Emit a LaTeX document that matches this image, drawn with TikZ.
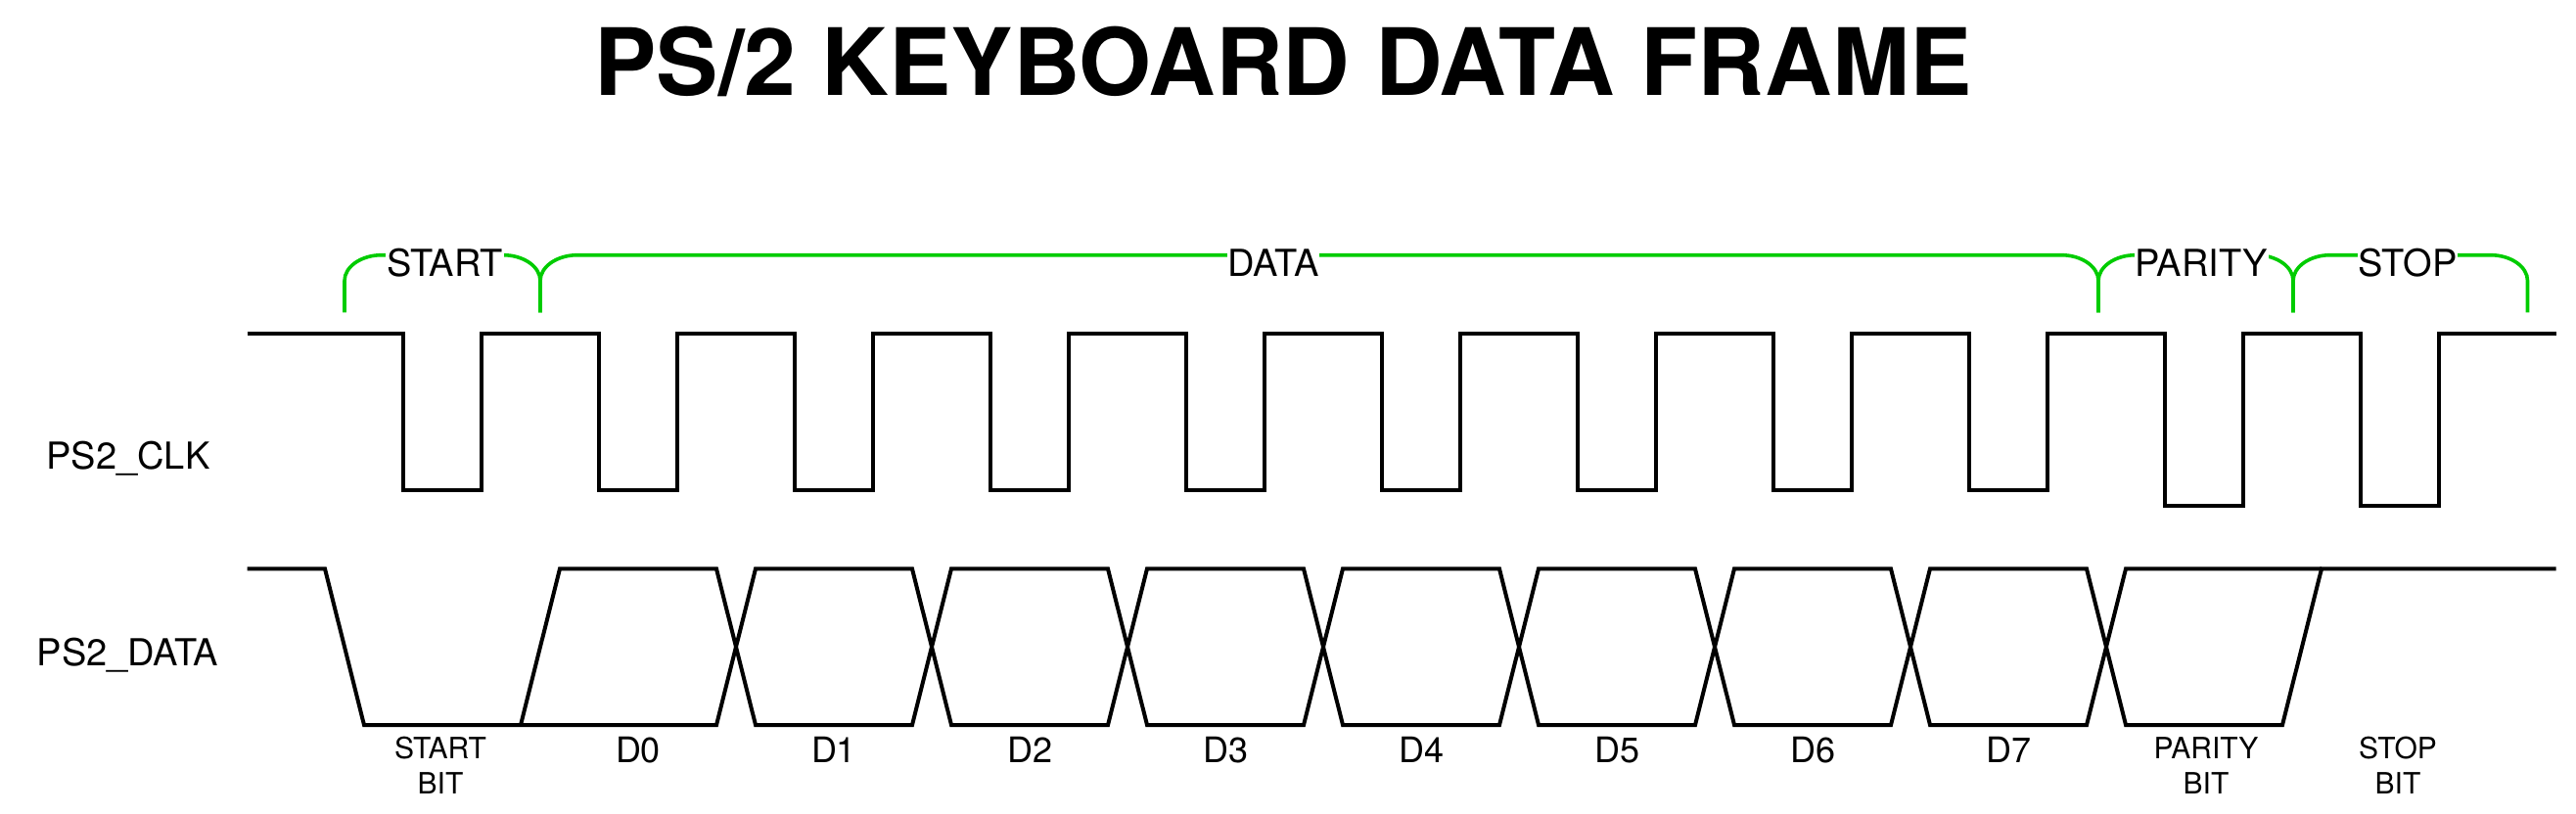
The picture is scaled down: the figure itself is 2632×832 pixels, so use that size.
\documentclass[tikz,border=0pt]{standalone}
\usepackage{fontspec}
\setmainfont{TeX Gyre Heros}
\definecolor{bracegreen}{RGB}{0,204,0}
\begin{document}
\begin{tikzpicture}[x=1pt,y=-1pt,
  wave/.style={line width=4pt, line join=miter, draw=black},
  bracebar/.style={line width=3.6pt, draw=bracegreen, line cap=butt},
  toplbl/.style={font=\fontsize{38}{46}\selectfont, fill=white, inner sep=1pt, anchor=base},
  sidelbl/.style={font=\fontsize{38}{46}\selectfont, inner sep=0pt, anchor=base},
  bitlbl/.style={font=\fontsize{36}{44}\selectfont, inner sep=0pt, anchor=base},
  smalllbl/.style={font=\fontsize{30}{36}\selectfont, inner sep=0pt, anchor=base},
  titlelbl/.style={font=\fontsize{95}{114}\selectfont\bfseries, inner sep=0pt, anchor=base}]
\useasboundingbox (0,0) rectangle (2632,832);
\fill[white] (0,0) rectangle (2632,832);

% title
\node[titlelbl] (title) at (1311,97.7) {PS/2 KEYBOARD DATA FRAME};

% signal names
\node[sidelbl] (clklbl) at (131,479.4) {PS2\_CLK};
\node[sidelbl] (datalbl) at (130.5,680) {PS2\_DATA};

% green braces
\foreach \a/\b in {352/552, 552/2144, 2144/2343, 2343/2582.5}{
  \draw[bracebar] (\a,319.4) -- (\a,287)
     .. controls (\a,272.6) and ({\a+17},260.7) .. ({\a+38},260.7)
     -- ({\b-38},260.7)
     .. controls ({\b-17},260.7) and (\b,272.6) .. (\b,287)
     -- (\b,319.4);
}
\node[toplbl] (lstart) at (454.5,282.3) {START};
\node[toplbl] (ldata) at (1301,282.3) {DATA};
\node[toplbl] (lparity) at (2249,282.3) {PARITY};
\node[toplbl] (lstop) at (2460,282.3) {STOP};

% clock waveform
\draw[wave] (252.6,340.5)
  foreach \k in {0,...,8} {
    -- ({411.6+200*\k},340.5) -- ({411.6+200*\k},500.8)
    -- ({491.6+200*\k},500.8) -- ({491.6+200*\k},340.5)
  }
  foreach \k in {9,10} {
    -- ({411.6+200*\k},340.5) -- ({411.6+200*\k},517)
    -- ({491.6+200*\k},517) -- ({491.6+200*\k},340.5)
  }
  -- (2611.7,340.5);

% data waveform
\draw[wave] (252.6,581.4) -- (332,581.4) -- (372,741) -- (732,741)
  -- (772,581.4) -- (932,581.4) -- (972,741) -- (1132,741)
  -- (1172,581.4) -- (1332,581.4) -- (1372,741) -- (1532,741)
  -- (1572,581.4) -- (1732,581.4) -- (1772,741) -- (1932,741)
  -- (1972,581.4) -- (2132,581.4) -- (2172,741) -- (2332,741)
  -- (2372,581.4) -- (2611.7,581.4);
\draw[wave] (532,741) -- (572,581.4) -- (732,581.4)
  -- (772,741) -- (932,741) -- (972,581.4) -- (1132,581.4)
  -- (1172,741) -- (1332,741) -- (1372,581.4) -- (1532,581.4)
  -- (1572,741) -- (1732,741) -- (1772,581.4) -- (1932,581.4)
  -- (1972,741) -- (2132,741) -- (2172,581.4) -- (2372,581.4);

% bit labels
\node[smalllbl] (sb1) at (450,775.7) {START};
\node[smalllbl] (sb2) at (450,811) {BIT};
\foreach \k in {0,...,7}{
  \node[bitlbl] (d\k) at ({652+200*\k},779.8) {D\k};
}
\node[smalllbl] (pb1) at (2254,775.7) {PARITY};
\node[smalllbl] (pb2) at (2254,811) {BIT};
\node[smalllbl] (tb1) at (2450,775.7) {STOP};
\node[smalllbl] (tb2) at (2450,811) {BIT};
\end{tikzpicture}
\end{document}
